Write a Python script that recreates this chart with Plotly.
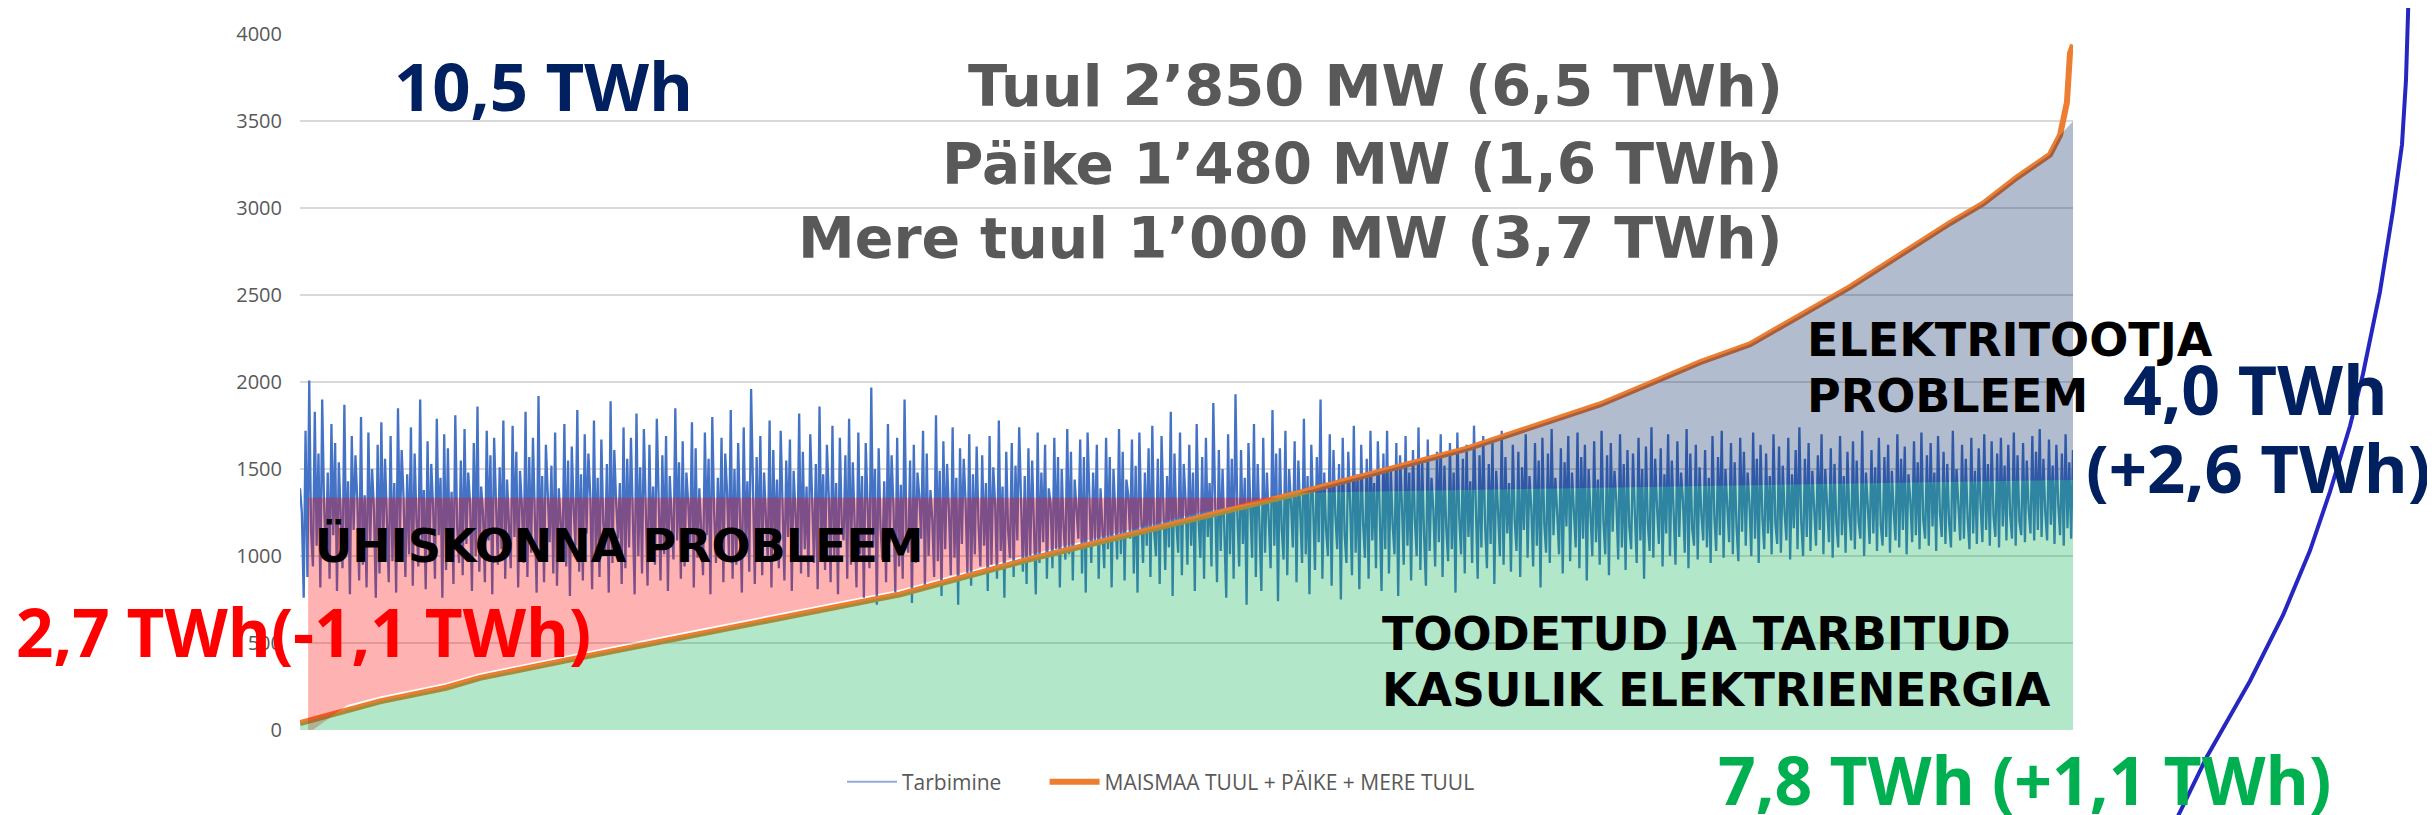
import plotly.graph_objects as go

# ---------------- data ----------------
# Tarbimine (consumption, MW), hours sorted by production
tarbimine = [
    1390, 1250, 760, 1720, 880, 2010, 1140, 940, 1830, 1060, 1590, 820, 1900, 1310, 990, 1480, 870, 1760, 1120, 1650,
    800, 1540, 1230, 930, 1870, 1010, 1430, 780, 1690, 1150, 1580, 1320, 860, 1800, 950, 1350, 820, 1710, 1080, 1500,
    1270, 760, 1640, 900, 1770, 1040, 1560, 1190, 850, 1690, 970, 1420, 790, 1850, 1100, 1610, 1340, 880, 1470, 1010,
    1740, 830, 1590, 1210, 940, 1900, 1060, 1380, 810, 1660, 990, 1530, 1280, 870, 1790, 1120, 1450, 760, 1700, 920,
    1620, 1030, 1370, 840, 1810, 1170, 960, 1550, 890, 1730, 1070, 1480, 1300, 800, 1650, 1000, 1860, 910, 1400, 1240,
    850, 1720, 1090, 1580, 780, 1680, 1360, 950, 1510, 1040, 1780, 870, 1440, 1180, 930, 1750, 1110, 1600, 820, 1490,
    1290, 960, 1830, 880, 1570, 1020, 1680, 1230, 790, 1920, 970, 1460, 850, 1640, 1330, 1080, 1520, 900, 1710, 830,
    1390, 1160, 1000, 1760, 940, 1550, 770, 1630, 1270, 1060, 1840, 910, 1470, 860, 1700, 1130, 1590, 1350, 810, 1780,
    990, 1450, 880, 1670, 1200, 1020, 1530, 790, 1890, 960, 1610, 1310, 1100, 1420, 840, 1740, 930, 1560, 1050, 1680,
    1260, 780, 1820, 1000, 1510, 900, 1730, 1170, 830, 1640, 1070, 1400, 950, 1790, 1340, 860, 1580, 1010, 1690, 800,
    1460, 1220, 980, 1850, 1090, 1540, 870, 1660, 940, 1480, 1300, 1040, 1770, 820, 1620, 990, 1390, 1150, 890, 1710,
    1120, 1560, 780, 1800, 1250, 960, 1450, 1030, 1680, 850, 1590, 1370, 1000, 1840, 870, 1500, 950, 1650, 1200, 790,
    1740, 1080, 1430, 910, 1960, 1290, 840, 1570, 1020, 1690, 890, 1480, 1180, 970, 1780, 820, 1610, 1060, 1440, 930,
    1720, 1330, 860, 1550, 1110, 1670, 800, 1490, 1240, 990, 1820, 900, 1600, 1040, 1400, 880, 1700, 1270, 960, 1530,
    810, 1860, 1070, 1470, 920, 1640, 1350, 850, 1750, 1000, 1420, 780, 1680, 1190, 1090, 1580, 870, 1790, 950, 1540,
    1230, 820, 1710, 1010, 1460, 760, 1650, 1300, 930, 1970, 1050, 1500, 720, 1620, 1160, 980, 1430, 850, 1760, 1080,
    1580, 1280, 790, 1680, 940, 1410, 870, 1900, 1120, 1020, 1550, 730, 1640, 960, 1480, 1340, 1100, 1720, 810, 1590,
    1000, 1380, 1210, 880, 1810, 970, 1490, 770, 1660, 1040, 1530, 1260, 890, 1740, 990, 1450, 720, 1620, 1070, 1560,
    1310, 900, 1700, 830, 1470, 1010, 1630, 1180, 940, 1580, 1060, 1420, 800, 1690, 950, 1510, 1290, 870, 1780, 1030,
    1400, 760, 1600, 1150, 990, 1650, 880, 1520, 1090, 1740, 1350, 910, 1460, 840, 1620, 1000, 1550, 1220, 780, 1710,
    960, 1480, 1080, 1640, 870, 1390, 1300, 930, 1680, 1040, 1570, 820, 1500, 1170, 980, 1730, 1010, 1600, 860, 1440,
    1250, 1100, 1670, 900, 1570, 790, 1710, 1320, 960, 1480, 1080, 1640, 870, 1390, 1190, 930, 1680, 1040, 1570, 820,
    1500, 1270, 980, 1730, 1010, 1600, 860, 1440, 1350, 1100, 1670, 900, 1520, 790, 1710, 1230, 960, 1480, 1060, 1620,
    880, 1750, 1140, 1000, 1560, 840, 1690, 1280, 920, 1460, 1050, 1830, 770, 1590, 1190, 1020, 1710, 890, 1530, 1320,
    950, 1640, 1060, 1480, 800, 1760, 1210, 990, 1570, 870, 1680, 1110, 1420, 940, 1880, 1300, 850, 1610, 1030, 1500,
    1180, 760, 1700, 1010, 1560, 870, 1930, 1240, 940, 1610, 1070, 1450, 720, 1650, 1290, 990, 1760, 880, 1530, 1120,
    800, 1680, 1020, 1480, 1230, 930, 1840, 1060, 1590, 740, 1620, 1160, 980, 1720, 890, 1500, 1310, 1050, 1660, 850,
    1550, 1200, 960, 1790, 1010, 1460, 780, 1640, 1280, 920, 1570, 1080, 1900, 870, 1480, 1150, 1000, 1700, 830, 1610,
    1240, 1040, 1530, 750, 1680, 1130, 960, 1600, 1300, 890, 1750, 1020, 1470, 810, 1640, 1190, 990, 1560, 870, 1720,
    1090, 1420, 930, 1660, 1250, 800, 1590, 1040, 1720, 900, 1500, 1180, 1010, 1650, 770, 1580, 1300, 950, 1690, 1060,
    1480, 860, 1610, 1210, 1000, 1740, 920, 1540, 1120, 830, 1670, 1030, 1450, 1270, 940, 1600, 1080, 1700, 880, 1520,
    1160, 970, 1650, 1040, 1480, 790, 1710, 1230, 1010, 1560, 900, 1640, 1110, 1430, 960, 1750, 1290, 870, 1580, 1050,
    1690, 1180, 930, 1530, 1070, 1660, 840, 1490, 1260, 1000, 1720, 950, 1570, 1130, 1420, 910, 1640, 1210, 1030, 1600,
    880, 1510, 1150, 1700, 990, 1460, 1280, 940, 1650, 1060, 1550, 820, 1680, 1190, 1020, 1590, 960, 1730, 1120, 1450,
    1250, 1010, 1620, 900, 1540, 1170, 1690, 970, 1480, 1300, 1050, 1710, 930, 1570, 1100, 1640, 860, 1500, 1220, 1000,
    1660, 1080, 1440, 950, 1720, 1200, 1010, 1580, 890, 1650, 1140, 1490, 1310, 980, 1700, 1050, 1530, 920, 1610, 1170,
    1040, 1590, 1250, 960, 1680, 1090, 1500, 870, 1630, 1190, 1030, 1740, 990, 1560, 1280, 1070, 1620, 940, 1470, 1130,
    1700, 1000, 1550, 1210, 950, 1660, 1110, 1480, 1320, 1020, 1730, 930, 1590, 1160, 1060, 1640, 980, 1510, 1240, 1090,
    1610, 1050, 1450, 960, 1690, 1230, 1030, 1570, 1120, 1720, 990, 1500, 1290, 1080, 1650, 1010, 1540, 1170, 970, 1680,
    1140, 1600, 1060, 1480, 1300, 1000, 1710, 1100, 1560, 960, 1640, 1220, 1040, 1590, 1130, 1460, 1010, 1700, 1190, 1070,
    1630, 1020, 1520, 1250, 1090, 1680, 980, 1470, 1160, 1610, 1040, 1740, 1200, 1000, 1560, 1110, 1650, 1030, 1490, 1280,
    1060, 1580, 1150, 1700, 1010, 1500, 1310, 1080, 1620, 990, 1530, 1190, 1050, 1690, 1120, 1460, 1020, 1600, 1240, 1090,
    1660, 1040, 1550, 1200, 1100, 1720, 1000, 1480, 1290, 1070, 1610, 1130, 1510, 1030, 1680, 1180, 1060, 1570, 1110, 1640,
    1020, 1490, 1260, 1090, 1700, 1050, 1560, 1150, 1630, 1010, 1470, 1320, 1080, 1660, 1120, 1540, 1040, 1710, 1210, 1100,
    1580, 1060, 1650, 1170, 1480, 1030, 1690, 1250, 1110, 1600, 1070, 1530, 1190, 1050, 1720, 1140, 1500, 1280, 1090, 1640,
    1100, 1560, 1220, 1040, 1680, 1130, 1490, 1070, 1620, 1300, 1080, 1700, 1150, 1530, 1060, 1660, 1230, 1110, 1590, 1050,
    1680, 1170, 1520, 1090, 1640, 1240, 1100, 1710, 1060, 1580, 1200, 1120, 1650, 1080, 1550, 1270, 1130, 1690, 1090, 1600,
    1150, 1730, 1110, 1560, 1250, 1090, 1670, 1180, 1520, 1070, 1640, 1300, 1120, 1590, 1060, 1700, 1160, 1540, 1100, 1610,
]

# Production duration curve: MAISMAA TUUL + PÄIKE + MERE TUUL (hour, MW)
prod_hours = [0, 232, 395, 721, 889, 1364, 1976, 2965, 3622, 4447, 4941, 5766, 6423, 6670,
              6917, 7164, 7658, 8152, 8316, 8483, 8646, 8696, 8730, 8745, 8760]
prod_mw = [40, 115, 165, 243, 300, 412, 554, 780, 987, 1224, 1364, 1618, 1872, 1992,
           2115, 2218, 2547, 2915, 3027, 3177, 3308, 3420, 3609, 3891, 3940]

y_ticks = [0, 500, 1000, 1500, 2000, 2500, 3000, 3500, 4000]
Y_MAX = 4002
HOURS = 8760
series_names = ["Tarbimine", "MAISMAA TUUL + PÄIKE + MERE TUUL"]

# overlay levels (MW)
society_level = 1335                          # top of "ühiskonna probleem" zone
useful_top = [(4941, 1364), (8760, 1438)]     # top of useful-energy zone
producer_cap = 3500                           # top-right corner of producer zone

# ---------------- geometry (page pixels; page body has an 8px margin) ----------------
OFF = 8
W, H = 2435 - OFF, 815 - OFF
PL, PR, PT, PB = 300, 2073, 20.35, 730   # plot area in page pixels


def xp(x):
    return (x - PL) / (PR - PL)


def yp(y):
    return (PB - y) / (PB - PT)


n = len(tarbimine)
cons_hours = [i * HOURS / (n - 1) for i in range(n)]
NBSP = "\u00a0"

fig = go.Figure()
# legend entry for consumption (thin light line, as in the original legend)
fig.add_trace(go.Scatter(x=[None], y=[None], mode="lines",
                         name=series_names[0] + NBSP * 7, legendgroup="cons",
                         line=dict(color="#8faadc", width=2), hoverinfo="skip"))
fig.add_trace(go.Scatter(x=cons_hours, y=tarbimine, mode="lines", name=series_names[0],
                         legendgroup="cons", showlegend=False,
                         line=dict(color="#4472c4", width=2.3), hoverinfo="skip"))
fig.add_trace(go.Scatter(x=prod_hours, y=prod_mw, mode="lines",
                         name=series_names[1],
                         line=dict(color="#ed7d31", width=6), hoverinfo="skip"))


def cross_hour(level):
    for i in range(1, len(prod_hours)):
        if prod_mw[i] >= level:
            h0, h1 = prod_hours[i - 1], prod_hours[i]
            v0, v1 = prod_mw[i - 1], prod_mw[i]
            return h0 + (level - v0) / (v1 - v0) * (h1 - h0)
    return HOURS


def path(pts):
    return "M " + " L ".join(f"{x},{y}" for x, y in pts) + " Z"


hc = cross_hour(society_level)
pink = [(40, society_level), (hc, society_level)]
pink += [(h, v + 27) for h, v in zip(prod_hours[::-1], prod_mw[::-1]) if 200 < h < hc]
pink += [(40, -20)]

hg = useful_top[0][0]
green = [(0, 0)] + [(h, v) for h, v in zip(prod_hours, prod_mw) if h <= hg]
green += [useful_top[1], (HOURS, 0)]

gray = [useful_top[0]] + [(h, v) for h, v in zip(prod_hours, prod_mw) if hg < h <= 8696]
gray += [(HOURS, producer_cap), useful_top[1]]

shapes = []
for pts, col in [(pink, "rgba(255,0,0,0.3)"), (green, "rgba(0,176,80,0.3)"),
                 (gray, "rgba(0,32,96,0.3)")]:
    shapes.append(dict(type="path", xref="x", yref="y", path=path(pts),
                       fillcolor=col, line=dict(width=0), layer="above"))

# decorative blue arc (page pixels)
arc_px = [(2176, 822), (2207, 757), (2250, 680), (2283, 613), (2310, 547), (2330, 487),
          (2350, 420), (2363, 367), (2380, 283), (2393, 200), (2402, 133), (2406, 67),
          (2408, 0), (2408.3, -10)]
arc_path = "M " + " L ".join(f"{xp(x):.5f},{yp(y):.5f}" for x, y in arc_px)
shapes.append(dict(type="path", xref="paper", yref="paper", path=arc_path,
                   line=dict(color="#2626c0", width=4), layer="above"))

# --- texts ---
NAVY, GRAY, RED, GREEN = "#002060", "#595959", "#ff0000", "#00b050"
BIG = "Open Sans"
LBL = "DejaVu Sans"

texts = [
    # text, x px, cap-centre y px, anchor, colour, family, size
    ("10,5 TWh", 392, 71, "left", NAVY, BIG, 67),
    ("Tuul 2’850 MW (6,5 TWh)", 1785, 73, "right", GRAY, LBL, 57.5),
    ("Päike 1’480 MW (1,6 TWh)", 1785, 152, "right", GRAY, LBL, 56.5),
    ("Mere tuul 1’000 MW (3,7 TWh)", 1785, 227, "right", GRAY, LBL, 57),
    ("ELEKTRITOOTJA", 1805, 331, "left", "#000000", LBL, 46),
    ("PROBLEEM", 1805, 388, "left", "#000000", LBL, 46),
    ("4,0 TWh", 2121, 381, "left", NAVY, BIG, 68),
    ("(+2,6 TWh)", 2084, 461, "left", NAVY, BIG, 67),
    ("ÜHISKONNA PROBLEEM", 313, 541, "left", "#000000", LBL, 46),
    ("2,7 TWh(-1,1 TWh)", 14, 629, "left", RED, BIG, 65.5),
    ("TOODETUD JA TARBITUD", 1380, 631, "left", "#000000", LBL, 46),
    ("KASULIK ELEKTRIENERGIA", 1380, 689, "left", "#000000", LBL, 45.3),
    ("7,8 TWh (+1,1 TWh)", 1716, 779, "left", GREEN, BIG, 66),
]
annotations = []
for t, x, y, anc, col, fam, size in texts:
    annotations.append(dict(text=t, x=xp(x), y=yp(y + 1), xref="paper", yref="paper",
                            xanchor=anc, yanchor="middle", showarrow=False,
                            font=dict(family=fam, size=size, color=col, weight=700)))

fig.update_layout(
    width=W, height=H,
    margin=dict(l=PL - OFF, r=W - (PR - OFF), t=PT - OFF, b=H - (PB - OFF), pad=0),
    paper_bgcolor="white", plot_bgcolor="white",
    shapes=shapes, annotations=annotations,
    showlegend=True,
    legend=dict(orientation="h", x=xp(1161), y=yp(783), xanchor="center", yanchor="middle",
                itemwidth=50,
                font=dict(family="Open Sans", size=21, color=GRAY), bgcolor="rgba(0,0,0,0)"),
    xaxis=dict(range=[0, HOURS], showgrid=False, showticklabels=False, zeroline=False,
               showline=False, ticks=""),
    yaxis=dict(range=[0, Y_MAX], tickvals=y_ticks, showgrid=True, gridcolor="#d9d9d9",
               gridwidth=1.5, zeroline=False, showline=False, ticks="",
               ticklabeloverflow="allow",
               tickfont=dict(family="Open Sans", size=20, color=GRAY), ticklabelstandoff=17),
)

fig.write_html("out.html")
